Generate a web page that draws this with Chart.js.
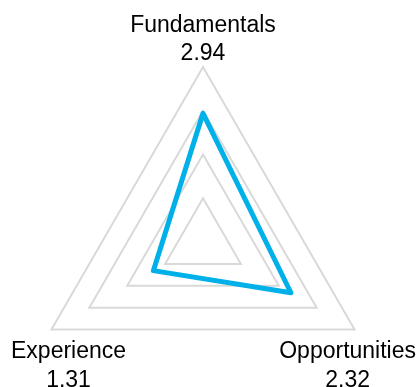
<!DOCTYPE html>
<html>
<head>
<meta charset="utf-8">
<script src="https://cdn.jsdelivr.net/npm/chart.js@4"></script>
<style>
  html, body { margin: 0; padding: 0; background: #fff; overflow: hidden; }
  #wrap { width: 420px; height: 387px; overflow: hidden; }
</style>
</head>
<body>
<div id="wrap">
  <canvas id="radar-chart" width="420" height="484"></canvas>
</div>
<script>
// Chart data
const categories = ['Fundamentals', 'Opportunities', 'Experience'];
const scores = [2.94, 2.32, 1.31];
const scaleMin = 0;
const scaleMax = 4;
const scaleStep = 1;

// Draw category name + score under/over each outer vertex
const vertexLabels = {
  id: 'vertexLabels',
  afterDraw(chart) {
    const scale = chart.scales.r;
    const ctx = chart.ctx;
    const lineHeight = 28.5;
    ctx.save();
    ctx.font = '23px "Liberation Sans", Arial, sans-serif';
    ctx.fillStyle = '#000';
    ctx.textAlign = 'center';
    ctx.textBaseline = 'alphabetic';
    categories.forEach((name, i) => {
      const pos = scale.getPointPosition(i, scale.drawingArea);
      const lines = [name, scores[i].toFixed(2)];
      const w = Math.max(...lines.map(t => ctx.measureText(t).width));
      let x = pos.x;
      x = Math.max(x, 11 + w / 2);
      x = Math.min(x, 416 - w / 2);
      let y;
      if (pos.y < scale.yCenter) {
        y = pos.y - 7 - lineHeight;
      } else {
        y = pos.y + 28.5;
      }
      lines.forEach((t, k) => ctx.fillText(t, x, y + k * lineHeight));
    });
    ctx.restore();
  }
};

const ctx = document.getElementById('radar-chart').getContext('2d');
const chart = new Chart(ctx, {
  type: 'radar',
  data: {
    labels: categories,
    datasets: [{
      label: 'Score',
      data: scores,
      borderColor: '#00b0e8',
      borderWidth: 5,
      borderJoinStyle: 'round',
      fill: false,
      pointRadius: 0,
      pointHoverRadius: 0
    }]
  },
  options: {
    responsive: false,
    animation: false,
    layout: {
      padding: { left: 28, right: 42, top: 67, bottom: 67 }
    },
    plugins: {
      legend: { display: false },
      tooltip: { enabled: false }
    },
    scales: {
      r: {
        min: scaleMin,
        max: scaleMax,
        ticks: { stepSize: scaleStep, display: false },
        grid: { color: '#d9d9d9', lineWidth: 2 },
        angleLines: { display: false },
        pointLabels: { display: false }
      }
    }
  },
  plugins: [vertexLabels]
});
</script>
</body>
</html>
